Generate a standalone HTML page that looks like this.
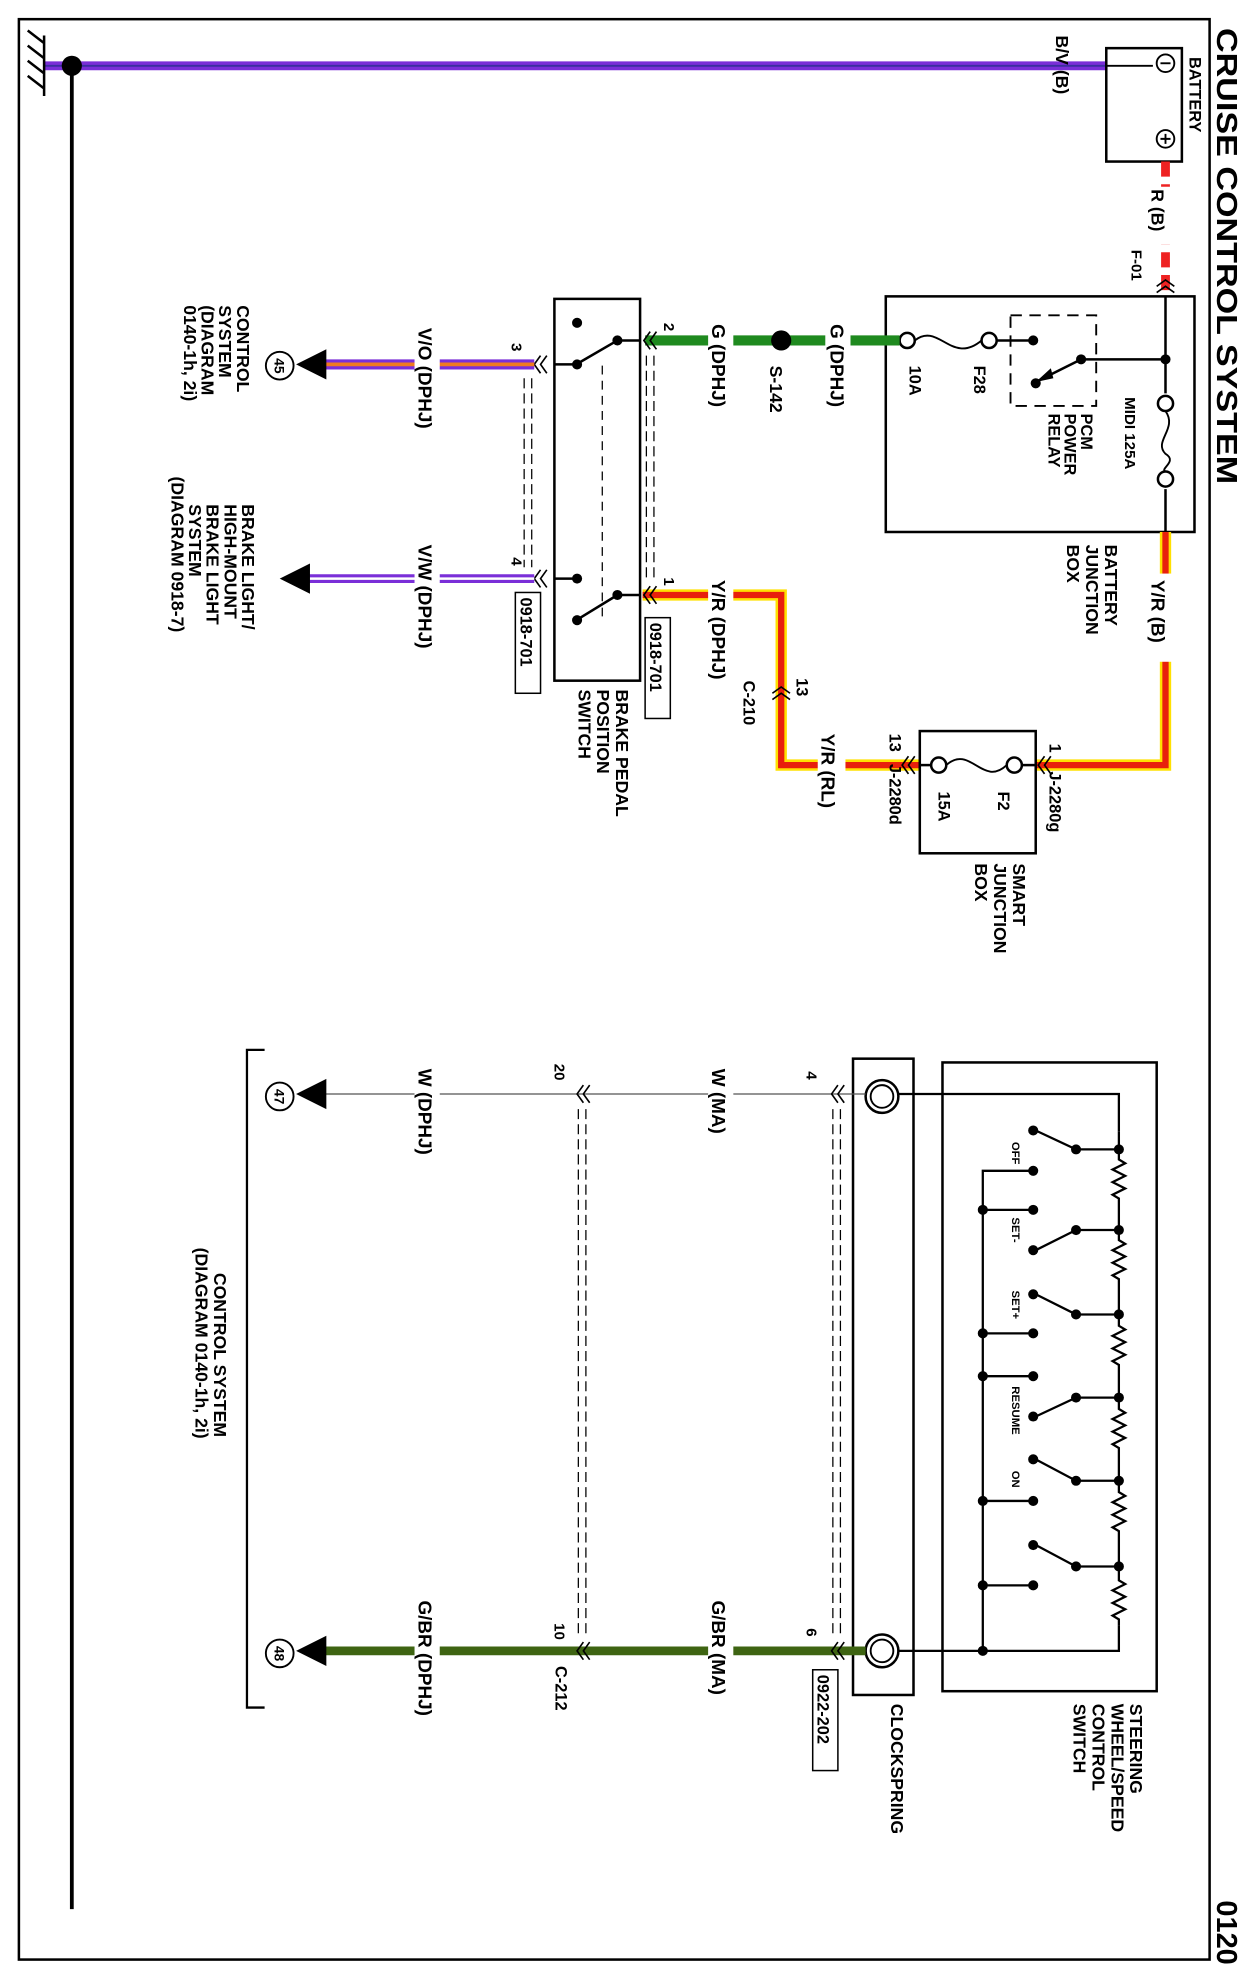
<!DOCTYPE html>
<html><head><meta charset="utf-8"><style>
html,body{margin:0;padding:0;background:#fff;}
svg{display:block;}
text{font-family:"Liberation Sans",sans-serif;font-weight:bold;fill:#000;}
</style></head><body>
<svg width="1260" height="1980" viewBox="0 0 1000 1571" xmlns="http://www.w3.org/2000/svg">
<defs>
<g id="chev"><path d="M5,-7 L0,0 L5,7 M10,-7 L5,0 L10,7" fill="none" stroke="#000" stroke-width="1.3"/></g>
</defs>
<rect x="15" y="15" width="945" height="1540" fill="none" stroke="#000" stroke-width="2"/>
<!-- title -->
<text transform="translate(966,22) rotate(90)" font-size="23" textLength="362" lengthAdjust="spacingAndGlyphs">CRUISE CONTROL SYSTEM</text>
<text transform="translate(966,1508) rotate(90)" font-size="23">0120</text>

<!-- ground bus -->
<line x1="35" y1="52" x2="878" y2="52" stroke="#7a2fd8" stroke-width="7"/>
<line x1="35" y1="52" x2="878" y2="52" stroke="#3a2fa0" stroke-width="1.5"/>
<line x1="57" y1="52" x2="57" y2="1515" stroke="#000" stroke-width="3"/>
<circle cx="57" cy="52" r="8" fill="#000"/>
<path d="M35,28 L35,76 M35,34 L22,24 M35,46 L22,36 M35,58 L22,48 M35,70 L22,60" stroke="#000" stroke-width="2" fill="none"/>

<!-- battery -->
<rect x="878" y="38" width="60" height="90" fill="#fff" stroke="#000" stroke-width="2"/>
<line x1="878" y1="52" x2="915" y2="52" stroke="#000" stroke-width="1.5"/>
<circle cx="925" cy="50" r="7" fill="#fff" stroke="#000" stroke-width="1.5"/><line x1="921" y1="50" x2="929" y2="50" stroke="#000" stroke-width="1.5"/>
<circle cx="925" cy="110" r="7" fill="#fff" stroke="#000" stroke-width="1.5"/><path d="M921,110 H929 M925,106 V114" stroke="#000" stroke-width="1.5"/>
<text transform="translate(838,28) rotate(90)" font-size="14">B/V (B)</text>
<text transform="translate(944,45) rotate(90)" font-size="13">BATTERY</text>
<line x1="925" y1="128" x2="925" y2="235" stroke="#e22" stroke-width="7" stroke-dasharray="12,6"/>
<rect x="912" y="148" width="22" height="46" fill="#fff"/>
<text transform="translate(914,150) rotate(90)" font-size="14">R (B)</text>
<text transform="translate(898,198) rotate(90)" font-size="12">F-01</text>
<g transform="translate(925,222) rotate(90)"><use href="#chev"/></g>

<!-- battery junction box -->
<rect x="703" y="235" width="245" height="187" fill="#fff" stroke="#000" stroke-width="2"/>
<line x1="925" y1="235" x2="925" y2="312" stroke="#000" stroke-width="2"/>
<line x1="925" y1="388" x2="925" y2="422" stroke="#000" stroke-width="2"/>
<circle cx="925" cy="285" r="4" fill="#000"/>
<circle cx="925" cy="320" r="6" fill="#fff" stroke="#000" stroke-width="2"/>
<circle cx="925" cy="380" r="6" fill="#fff" stroke="#000" stroke-width="2"/>
<path d="M925,326 C935,340 915,350 925,360 C935,366 920,372 925,374" fill="none" stroke="#000" stroke-width="1.5"/>
<text transform="translate(893,315) rotate(90)" font-size="12">MIDI  125A</text>
<rect x="802" y="250" width="68" height="72" fill="none" stroke="#000" stroke-width="1.5" stroke-dasharray="9,6"/>
<line x1="925" y1="285" x2="858" y2="285" stroke="#000" stroke-width="2"/>
<circle cx="858" cy="285" r="4" fill="#000"/>
<line x1="858" y1="285" x2="822" y2="303" stroke="#000" stroke-width="2"/>
<path d="M822,303 L834,292 L836,300 Z" fill="#000"/>
<circle cx="822" cy="304" r="4" fill="#000"/>
<circle cx="820" cy="270" r="4" fill="#000"/>
<line x1="791" y1="270" x2="820" y2="270" stroke="#000" stroke-width="2"/>
<circle cx="785" cy="270" r="6" fill="#fff" stroke="#000" stroke-width="2"/>
<circle cx="720" cy="270" r="6" fill="#fff" stroke="#000" stroke-width="2"/>
<path d="M726,270 C745,255 755,290 779,270" fill="none" stroke="#000" stroke-width="1.5"/>
<text transform="translate(858,328) rotate(90)" font-size="13">PCM</text>
<text transform="translate(845,328) rotate(90)" font-size="13">POWER</text>
<text transform="translate(832,328) rotate(90)" font-size="13">RELAY</text>
<text transform="translate(773,290) rotate(90)" font-size="13">F28</text>
<text transform="translate(722,290) rotate(90)" font-size="13">10A</text>
<text transform="translate(877,432) rotate(90)" font-size="14">BATTERY</text>
<text transform="translate(862,432) rotate(90)" font-size="14">JUNCTION</text>
<text transform="translate(847,432) rotate(90)" font-size="14">BOX</text>

<!-- G wire -->
<line x1="512" y1="270" x2="714" y2="270" stroke="#1f8a1f" stroke-width="8"/>
<circle cx="620" cy="270" r="8" fill="#000"/>
<rect x="655" y="255" width="20" height="75" fill="#fff"/>
<text transform="translate(659,257) rotate(90)" font-size="15">G (DPHJ)</text>
<rect x="562" y="255" width="20" height="75" fill="#fff"/>
<text transform="translate(565,257) rotate(90)" font-size="15">G (DPHJ)</text>
<text transform="translate(611,290) rotate(90)" font-size="14">S-142</text>

<!-- Y/R wiring -->
<path d="M925,422 V607 H822" fill="none" stroke="#ffe000" stroke-width="9"/>
<path d="M925,422 V607 H822" fill="none" stroke="#e8200c" stroke-width="5"/>
<path d="M730,607 H620 V472 H510" fill="none" stroke="#ffe000" stroke-width="9"/>
<path d="M730,607 H620 V472 H510" fill="none" stroke="#e8200c" stroke-width="5"/>
<rect x="910" y="455" width="26" height="70" fill="#fff"/>
<text transform="translate(914,460) rotate(90)" font-size="15">Y/R (B)</text>
<rect x="562" y="458" width="20" height="82" fill="#fff"/>
<text transform="translate(565,460) rotate(90)" font-size="15">Y/R (DPHJ)</text>
<rect x="649" y="580" width="22" height="70" fill="#fff"/>
<text transform="translate(652,582) rotate(90)" font-size="15">Y/R (RL)</text>
<g transform="translate(620,545) rotate(90)"><use href="#chev"/></g>
<text transform="translate(632,538) rotate(90)" font-size="13">13</text>
<text transform="translate(590,540) rotate(90)" font-size="13">C-210</text>
<g transform="translate(716,607)"><use href="#chev"/></g>
<g transform="translate(824,607)"><use href="#chev"/></g>
<text transform="translate(706,582) rotate(90)" font-size="13">13</text>
<text transform="translate(706,606) rotate(90)" font-size="13">J-2280d</text>
<text transform="translate(833,590) rotate(90)" font-size="13">1</text>
<text transform="translate(833,612) rotate(90)" font-size="13">J-2280g</text>

<!-- smart junction box -->
<rect x="730" y="580" width="92" height="97" fill="#fff" stroke="#000" stroke-width="2"/>
<line x1="730" y1="607" x2="739" y2="607" stroke="#000" stroke-width="2"/>
<line x1="811" y1="607" x2="822" y2="607" stroke="#000" stroke-width="2"/>
<circle cx="745" cy="607" r="6" fill="#fff" stroke="#000" stroke-width="2"/>
<circle cx="805" cy="607" r="6" fill="#fff" stroke="#000" stroke-width="2"/>
<path d="M751,607 C770,590 780,625 799,607" fill="none" stroke="#000" stroke-width="1.5"/>
<text transform="translate(792,628) rotate(90)" font-size="13">F2</text>
<text transform="translate(745,628) rotate(90)" font-size="13">15A</text>
<text transform="translate(804,685) rotate(90)" font-size="14">SMART</text>
<text transform="translate(789,685) rotate(90)" font-size="14">JUNCTION</text>
<text transform="translate(774,685) rotate(90)" font-size="14">BOX</text>

<!-- brake pedal switch -->
<rect x="440" y="237" width="68" height="303" fill="#fff" stroke="#000" stroke-width="2"/>
<circle cx="458" cy="256" r="4" fill="#000"/>
<circle cx="490" cy="270" r="4" fill="#000"/><line x1="490" y1="270" x2="508" y2="270" stroke="#000" stroke-width="2"/>
<line x1="490" y1="270" x2="459" y2="288" stroke="#000" stroke-width="2"/><circle cx="458" cy="289" r="4" fill="#000"/>
<line x1="440" y1="289" x2="458" y2="289" stroke="#000" stroke-width="2"/>
<circle cx="458" cy="459" r="4" fill="#000"/><line x1="440" y1="459" x2="458" y2="459" stroke="#000" stroke-width="2"/>
<circle cx="490" cy="472" r="4" fill="#000"/><line x1="490" y1="472" x2="508" y2="472" stroke="#000" stroke-width="2"/>
<line x1="490" y1="472" x2="459" y2="491" stroke="#000" stroke-width="2"/><circle cx="458" cy="492" r="4" fill="#000"/>
<line x1="478" y1="290" x2="478" y2="490" stroke="#000" stroke-width="1" stroke-dasharray="7,5"/>
<path d="M416,300 V450 M422,300 V450 M513,282 V462 M519,282 V462" stroke="#000" stroke-width="1" stroke-dasharray="8,4"/>
<g transform="translate(511,270)"><use href="#chev"/></g>
<g transform="translate(511,472)"><use href="#chev"/></g>
<g transform="translate(424,289)"><use href="#chev"/></g>
<g transform="translate(424,459)"><use href="#chev"/></g>
<text transform="translate(527,256) rotate(90)" font-size="12">2</text>
<text transform="translate(527,458) rotate(90)" font-size="12">1</text>
<text transform="translate(406,272) rotate(90)" font-size="12">3</text>
<text transform="translate(406,442) rotate(90)" font-size="12">4</text>
<rect x="512" y="490" width="20" height="80" fill="#fff" stroke="#000" stroke-width="1.2"/>
<text transform="translate(516,494) rotate(90)" font-size="13">0918-701</text>
<rect x="409" y="470" width="20" height="80" fill="#fff" stroke="#000" stroke-width="1.2"/>
<text transform="translate(413,474) rotate(90)" font-size="13">0918-701</text>
<text transform="translate(489,547) rotate(90)" font-size="14">BRAKE PEDAL</text>
<text transform="translate(474,547) rotate(90)" font-size="14">POSITION</text>
<text transform="translate(459,547) rotate(90)" font-size="14">SWITCH</text>

<!-- V/O wire -->
<line x1="255" y1="289" x2="424" y2="289" stroke="#7a2fd8" stroke-width="8"/>
<line x1="255" y1="289" x2="424" y2="289" stroke="#f07a20" stroke-width="3"/>
<rect x="329" y="258" width="20" height="82" fill="#fff"/>
<text transform="translate(332,260) rotate(90)" font-size="15">V/O (DPHJ)</text>
<path d="M235,289 L259,277 L259,301 Z" fill="#000"/>
<circle cx="222" cy="290" r="11" fill="#fff" stroke="#000" stroke-width="1.5"/>
<text transform="translate(218,284) rotate(90)" font-size="11">45</text>
<text transform="translate(188,242) rotate(90)" font-size="14">CONTROL</text>
<text transform="translate(174,242) rotate(90)" font-size="14">SYSTEM</text>
<text transform="translate(160,242) rotate(90)" font-size="14">(DIAGRAM</text>
<text transform="translate(146,242) rotate(90)" font-size="14">0140-1h, 2i)</text>

<!-- V/W wire -->
<line x1="245" y1="459" x2="424" y2="459" stroke="#7a2fd8" stroke-width="7"/>
<line x1="245" y1="459" x2="424" y2="459" stroke="#fff" stroke-width="2"/>
<rect x="329" y="430" width="20" height="82" fill="#fff"/>
<text transform="translate(332,432) rotate(90)" font-size="15">V/W (DPHJ)</text>
<path d="M222,459 L246,447 L246,471 Z" fill="#000"/>
<text transform="translate(192,400) rotate(90)" font-size="14">BRAKE LIGHT/</text>
<text transform="translate(178,400) rotate(90)" font-size="14">HIGH-MOUNT</text>
<text transform="translate(164,400) rotate(90)" font-size="14">BRAKE LIGHT</text>
<text transform="translate(150,400) rotate(90)" font-size="14">SYSTEM</text>
<text transform="translate(136,378) rotate(90)" font-size="14">(DIAGRAM 0918-7)</text>

<!-- lower: steering switch -->
<rect x="748" y="843" width="170" height="499" fill="#fff" stroke="#000" stroke-width="2"/>
<rect x="677" y="840" width="48" height="505" fill="#fff" stroke="#000" stroke-width="2"/>
<!-- coils -->
<circle cx="700" cy="870" r="13" fill="none" stroke="#000" stroke-width="2"/><circle cx="700" cy="870" r="9" fill="none" stroke="#000" stroke-width="1.5"/>
<circle cx="700" cy="1310" r="13" fill="none" stroke="#000" stroke-width="2"/><circle cx="700" cy="1310" r="9" fill="none" stroke="#000" stroke-width="1.5"/>
<path d="M713,868 H888 V898" fill="none" stroke="#000" stroke-width="1.8"/>
<path d="M713,1310 H888 V1290" fill="none" stroke="#000" stroke-width="1.8"/>
<!-- ladder -->
<g stroke="#000" stroke-width="1.8" fill="none">
<path d="M888,898 V912 V920 l5,3 l-10,5 l10,5 l-10,5 l10,5 l-10,5 l5,3 V976 V984 l5,3 l-10,5 l10,5 l-10,5 l10,5 l-10,5 l5,3 V1043 V1052 l5,3 l-10,5 l10,5 l-10,5 l10,5 l-10,5 l5,3 V1109 V1118 l5,3 l-10,5 l10,5 l-10,5 l10,5 l-10,5 l5,3 V1175 V1184 l5,3 l-10,5 l10,5 l-10,5 l10,5 l-10,5 l5,3 V1243 V1254 l5,3 l-10,5 l10,5 l-10,5 l10,5 l-10,5 l5,3 V1290"/>
<path d="M888,912 H854 L822,897 M888,976 H854 L822,992 M888,1043 H854 L822,1027 M888,1109 H854 L822,1124 M888,1175 H854 L822,1158 M888,1243 H854 L822,1226"/>
<path d="M820,929 H780 V1310 M780,960 H820 M780,1058 H820 M780,1092 H820 M780,1191 H820 M780,1258 H820"/>
</g>
<g fill="#000">
<circle cx="888" cy="912" r="4"/><circle cx="888" cy="976" r="4"/><circle cx="888" cy="1043" r="4"/><circle cx="888" cy="1109" r="4"/><circle cx="888" cy="1175" r="4"/><circle cx="888" cy="1243" r="4"/>
<circle cx="854" cy="912" r="4"/><circle cx="854" cy="976" r="4"/><circle cx="854" cy="1043" r="4"/><circle cx="854" cy="1109" r="4"/><circle cx="854" cy="1175" r="4"/><circle cx="854" cy="1243" r="4"/>
<circle cx="820" cy="897" r="4"/><circle cx="820" cy="929" r="4"/><circle cx="820" cy="960" r="4"/><circle cx="820" cy="992" r="4"/><circle cx="820" cy="1027" r="4"/><circle cx="820" cy="1058" r="4"/><circle cx="820" cy="1092" r="4"/><circle cx="820" cy="1124" r="4"/><circle cx="820" cy="1158" r="4"/><circle cx="820" cy="1191" r="4"/><circle cx="820" cy="1226" r="4"/><circle cx="820" cy="1258" r="4"/>
<circle cx="780" cy="960" r="4"/><circle cx="780" cy="1058" r="4"/><circle cx="780" cy="1092" r="4"/><circle cx="780" cy="1191" r="4"/><circle cx="780" cy="1258" r="4"/><circle cx="780" cy="1310" r="4"/>
</g>
<text transform="translate(803,906) rotate(90)" font-size="9">OFF</text>
<text transform="translate(803,966) rotate(90)" font-size="9">SET-</text>
<text transform="translate(803,1024) rotate(90)" font-size="9">SET+</text>
<text transform="translate(803,1100) rotate(90)" font-size="9">RESUME</text>
<text transform="translate(803,1167) rotate(90)" font-size="9">ON</text>
<text transform="translate(897,1352) rotate(90)" font-size="14">STEERING</text>
<text transform="translate(882,1352) rotate(90)" font-size="14">WHEEL/SPEED</text>
<text transform="translate(867,1352) rotate(90)" font-size="14">CONTROL</text>
<text transform="translate(852,1352) rotate(90)" font-size="14">SWITCH</text>
<text transform="translate(707,1352) rotate(90)" font-size="14">CLOCKSPRING</text>

<!-- W wire -->
<line x1="258" y1="868" x2="687" y2="868" stroke="#555" stroke-width="1"/>
<rect x="562" y="846" width="20" height="60" fill="#fff"/>
<text transform="translate(565,848) rotate(90)" font-size="15">W (MA)</text>
<rect x="329" y="846" width="20" height="80" fill="#fff"/>
<text transform="translate(332,848) rotate(90)" font-size="15">W (DPHJ)</text>
<g transform="translate(660,868)"><use href="#chev"/></g>
<g transform="translate(458,868)"><use href="#chev"/></g>
<text transform="translate(640,850) rotate(90)" font-size="12">4</text>
<text transform="translate(440,844) rotate(90)" font-size="12">20</text>
<path d="M235,868 L259,856 L259,880 Z" fill="#000"/>
<circle cx="222" cy="870" r="11" fill="#fff" stroke="#000" stroke-width="1.5"/>
<text transform="translate(218,864) rotate(90)" font-size="11">47</text>
<path d="M661,880 V1300 M667,880 V1300 M459,880 V1300 M465,880 V1300" stroke="#000" stroke-width="1" stroke-dasharray="8,4"/>

<!-- G/BR wire -->
<line x1="258" y1="1310" x2="687" y2="1310" stroke="#3e6412" stroke-width="7"/>
<rect x="562" y="1268" width="20" height="88" fill="#fff"/>
<text transform="translate(565,1270) rotate(90)" font-size="15">G/BR (MA)</text>
<rect x="329" y="1268" width="20" height="100" fill="#fff"/>
<text transform="translate(332,1270) rotate(90)" font-size="15">G/BR (DPHJ)</text>
<g transform="translate(660,1310)"><use href="#chev"/></g>
<g transform="translate(458,1310)"><use href="#chev"/></g>
<text transform="translate(640,1292) rotate(90)" font-size="12">6</text>
<text transform="translate(440,1288) rotate(90)" font-size="12">10</text>
<text transform="translate(441,1322) rotate(90)" font-size="13">C-212</text>
<rect x="645" y="1325" width="20" height="80" fill="#fff" stroke="#000" stroke-width="1.2"/>
<text transform="translate(649,1329) rotate(90)" font-size="13">0922-202</text>
<path d="M235,1310 L259,1298 L259,1322 Z" fill="#000"/>
<circle cx="222" cy="1312" r="11" fill="#fff" stroke="#000" stroke-width="1.5"/>
<text transform="translate(218,1306) rotate(90)" font-size="11">48</text>

<!-- bracket -->
<path d="M210,833 H196 V1355 H210" fill="none" stroke="#000" stroke-width="1.8"/>
<text transform="translate(170,1010) rotate(90)" font-size="14">CONTROL SYSTEM</text>
<text transform="translate(155,990) rotate(90)" font-size="14">(DIAGRAM 0140-1h, 2i)</text>
</svg>
</body></html>
